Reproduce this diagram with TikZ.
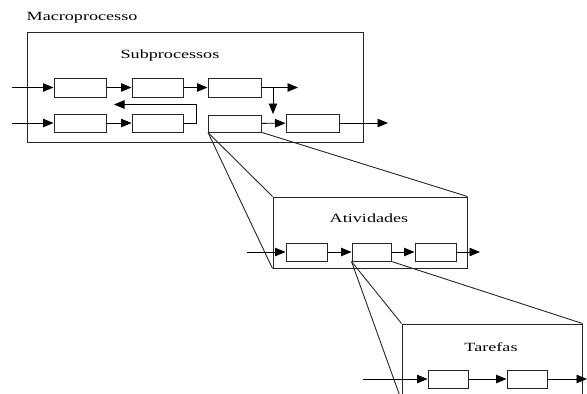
\documentclass[tikz,border=0pt]{standalone}
\usepackage{fontspec}
\setmainfont{Liberation Serif}
\usetikzlibrary{arrows.meta}
\tikzset{
  box/.style={draw=black!85, line width=1pt, rectangle, inner sep=0pt, minimum height=18pt},
  frame/.style={draw=black!85, line width=1pt, rectangle, inner sep=0pt},
  flow/.style={line width=0.9pt, -{Triangle[length=10.5pt,width=8.5pt]}},
  zoomline/.style={line width=0.9pt, black!85},
  lbl/.style={inner sep=0pt, font=\fontsize{12.5}{14}\selectfont}
}
\newcommand{\wide}[1]{\scalebox{1.45}[1]{#1}}
\begin{document}
\begin{tikzpicture}[x=1pt,y=-1pt]
\useasboundingbox (0,0) rectangle (587,394);
\clip (0,0) rectangle (587,394);
% macro frame
\node[frame, minimum width=336pt, minimum height=110pt] (macro) at (195,87) {};
\node[lbl] (tmacro) at (82,18) {\wide{Macroprocesso}};
\node[lbl] (tsub) at (170,55) {\wide{Subprocessos}};
% row 1
\node[box, minimum width=52pt, minimum height=19pt] (a1) at (80,87.5) {};
\node[box, minimum width=51pt, minimum height=19pt] (a2) at (157.5,87.5) {};
\node[box, minimum width=53pt, minimum height=19pt] (a3) at (234.5,87.5) {};
\coordinate (ain) at (12,87.5);
\coordinate (aout) at (298,87.5);
\coordinate (adn) at (273,87.5);
\coordinate (adnend) at (273,114);
% row 2
\node[box, minimum width=52pt] (b1) at (80,123) {};
\node[box, minimum width=51pt] (b2) at (157.5,123) {};
\node[box, minimum width=53pt, minimum height=17pt] (b3) at (235,123.5) {};
\node[box, minimum width=53pt] (b4) at (312.5,123) {};
\coordinate (bin) at (12,123);
\coordinate (bout) at (388,123);
\coordinate (fb1) at (196,123);
\coordinate (fb2) at (114,104.5);
% flows top
\draw[flow] (ain) -- (a1);
\draw[flow] (a1) -- (a2);
\draw[flow] (a2) -- (a3);
\draw[flow] (a3) -- (aout);
\draw[flow] (adn) -- (adnend);
\draw[flow] (bin) -- (b1);
\draw[flow] (b1) -- (b2);
\draw[flow] (b3) -- (b4);
\draw[flow] (b4) -- (bout);
\draw[flow] (b2.east) -- (fb1) |- (fb2);
% atividades
\node[frame, minimum width=194pt, minimum height=71pt] (ativ) at (370,232.5) {};
\node[lbl] (tativ) at (369,218) {\wide{Atividades}};
\node[box, minimum width=41pt] (c1) at (306.5,252) {};
\node[box, minimum width=39pt] (c2) at (371.5,252) {};
\node[box, minimum width=41pt] (c3) at (435.5,252) {};
\coordinate (cin) at (247,252);
\coordinate (cout) at (480,252);
\draw[flow] (cin) -- (c1);
\draw[flow] (c1) -- (c2);
\draw[flow] (c2) -- (c3);
\draw[flow] (c3) -- (cout);
\draw[zoomline] (b3.south west) -- (ativ.north west);
\draw[zoomline] (b3.south west) -- (ativ.south west);
\draw[zoomline] (b3.south east) -- (ativ.north east);
% tarefas
\node[frame, minimum width=180pt, minimum height=76pt] (taref) at (492,362) {};
\node[lbl] (ttaref) at (491,347) {\wide{Tarefas}};
\node[box, minimum width=40pt] (d1) at (448,379) {};
\node[box, minimum width=40pt] (d2) at (527,379) {};
\coordinate (din) at (363,379);
\coordinate (dout) at (587,379);
\draw[flow] (din) -- (d1);
\draw[flow] (d1) -- (d2);
\draw[flow] (d2) -- (dout);
\draw[zoomline] (c2.south west) -- (taref.north west);
\draw[zoomline] (c2.south west) -- (taref.south west);
\draw[zoomline] (c2.south east) -- (taref.north east);
\end{tikzpicture}
\end{document}
